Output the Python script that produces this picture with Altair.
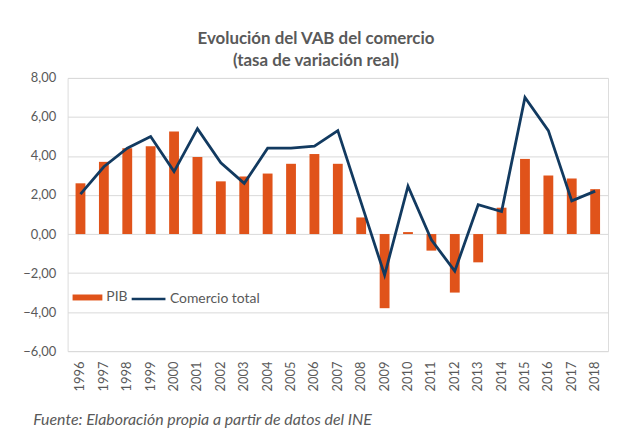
import altair as alt
import pandas as pd

years = [str(y) for y in range(1996, 2019)]
pib = [2.6, 3.7, 4.4, 4.5, 5.25, 3.95, 2.7, 2.95, 3.1, 3.6, 4.1, 3.6, 0.85,
       -3.8, 0.1, -0.85, -3.0, -1.45, 1.35, 3.85, 3.0, 2.85, 2.3]
comercio = [2.05, 3.45, 4.4, 5.0, 3.2, 5.4, 3.65, 2.6, 4.4, 4.4, 4.5, 5.3, 1.6,
            -2.1, 2.45, -0.3, -1.9, 1.5, 1.15, 7.0, 5.3, 1.7, 2.2]
y_ticks = [-6, -4, -2, 0, 2, 4, 6, 8]
title_lines = ["Evolución del VAB del comercio", "(tasa de variación real)"]
footer = "Fuente: Elaboración propia a partir de datos del INE"

ORANGE = "#E0531A"
NAVY = "#123A60"
GREY = "#595959"
FONT = "Lato"

df = pd.DataFrame({"year": years, "pib": pib, "comercio": comercio})

x_enc = alt.X(
    "year:N",
    sort=years,
    scale=alt.Scale(paddingInner=0.58, paddingOuter=0.34),
    axis=alt.Axis(
        labelAngle=270, labelFont=FONT, labelFontSize=13, labelColor=GREY,
        labelPadding=10, domain=False, ticks=False, grid=False,
        title=footer, titleFont=FONT, titleFontSize=16, titleFontStyle="italic",
        titleFontWeight="normal", titleColor=GREY, titleAlign="left",
        titleAnchor="start", titleBaseline="alphabetic", titleX=-35, titleY=74,
        titleAngle=0,
    ),
)

y_scale = alt.Scale(domain=[-6, 8], nice=False, zero=False)
y_axis = alt.Axis(
    values=y_ticks, tickCount=8, labelOverlap=False,
    labelExpr="replace(format(datum.value, '.2f'), '.', ',')",
    labelFont=FONT, labelFontSize=13, labelColor=GREY, labelPadding=12,
    domain=False, ticks=False, grid=True, gridColor="#D9D9D9", gridWidth=1,
    title=None,
)

bars = alt.Chart(df).mark_bar().transform_calculate(s1="'PIB'").encode(
    x=x_enc,
    y=alt.Y("pib:Q", scale=y_scale, axis=y_axis),
    color=alt.Color(
        "s1:N",
        scale=alt.Scale(domain=["PIB"], range=[ORANGE]),
        legend=alt.Legend(
            title=None, orient="none", legendX=5, legendY=206, padding=0,
            symbolType="M-1,-0.2H1V0.2H-1Z", symbolSize=900, symbolStrokeWidth=0,
            labelFont=FONT, labelFontSize=14, labelColor=GREY, labelOffset=4,
        ),
    ),
)

line = alt.Chart(df).mark_line(strokeWidth=2.8).transform_calculate(
    s2="'Comercio total'"
).encode(
    x=alt.X("year:N", sort=years),
    y=alt.Y("comercio:Q", scale=y_scale, axis=y_axis),
    stroke=alt.Stroke(
        "s2:N",
        scale=alt.Scale(domain=["Comercio total"], range=[NAVY]),
        legend=alt.Legend(
            title=None, orient="none", legendX=63, legendY=204, padding=0,
            symbolType="stroke", symbolSize=1156, symbolStrokeWidth=2.5,
            labelFont=FONT, labelFontSize=14, labelColor=GREY, labelOffset=3,
        ),
    ),
)

chart = alt.layer(bars, line).properties(
    width=544,
    height=275,
    autosize=alt.AutoSizeParams(type="none"),
    padding={"left": 60, "top": 69, "right": 3, "bottom": 78},
    title=alt.TitleParams(
        text=title_lines, font=FONT, fontSize=17, fontWeight="bold", color=GREY,
        anchor="middle", dx=-22, offset=2, lineHeight=22,
    ),
).configure_view(stroke=None).configure(background="white")

chart.save("out.html", embed_options={"renderer": "svg", "actions": False})
